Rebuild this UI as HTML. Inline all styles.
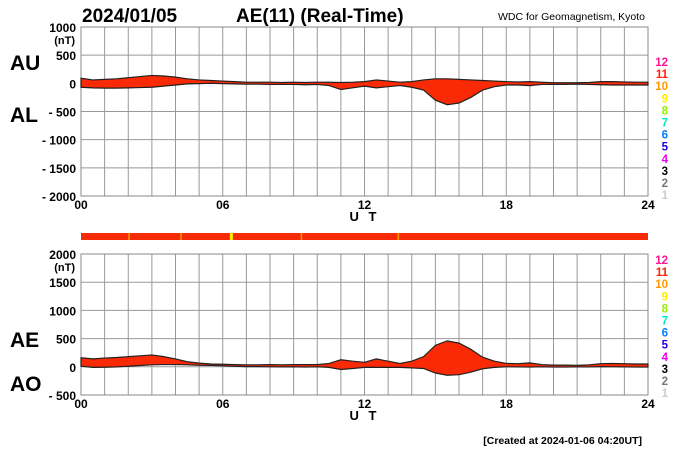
<!DOCTYPE html>
<html><head><meta charset="utf-8"><style>
body{margin:0;background:#fff;}
svg{display:block;font-family:"Liberation Sans",Arial,sans-serif;}
</style></head><body>
<svg id="c" width="700" height="450" viewBox="0 0 700 450">
<text x="82" y="22" font-size="19" font-weight="bold">2024/01/05</text>
<text x="236" y="22" font-size="19" font-weight="bold">AE(11) (Real-Time)</text>
<text x="645" y="20" font-size="10.5" text-anchor="end">WDC for Geomagnetism, Kyoto</text>
<text x="10" y="70" font-size="21" font-weight="bold">AU</text>
<text x="10" y="122" font-size="21" font-weight="bold">AL</text>
<text x="10" y="347" font-size="21" font-weight="bold">AE</text>
<text x="10" y="391" font-size="21" font-weight="bold">AO</text>
<text x="642" y="444" font-size="10.5" font-weight="bold" text-anchor="end">[Created at 2024-01-06 04:20UT]</text>
<g id="top"></g><g id="bot"></g><g id="strip"></g><g id="leg"></g>
</svg>
<script>
const hours = [];
for (let i = 0; i <= 48; i++) hours.push(i / 2);
const auValues = [90,60,70,80,100,120,140,130,110,80,60,50,40,30,20,20,20,15,20,15,20,20,15,20,30,60,40,20,30,60,80,80,70,60,50,40,30,25,30,20,10,10,10,15,30,30,25,20,20];
const alValues = [-70,-80,-85,-85,-80,-75,-70,-50,-30,-10,-5,0,-5,-10,-15,-15,-20,-20,-20,-25,-20,-40,-110,-80,-50,-80,-60,-40,-70,-120,-300,-380,-350,-250,-120,-60,-30,-30,-40,-20,-20,-20,-15,-20,-25,-30,-30,-30,-30];
const topTicks = [1000,500,0,-500,-1000,-1500,-2000];
const botTicks = [2000,1500,1000,500,0,-500];
const xTicks = ["00","06","12","18","24"];
const legendNums = ["12","11","10","9","8","7","6","5","4","3","2","1"];
const legendCols = ["#ff1493","#ff2000","#ff9900","#ffee00","#99ee00","#00e8c8","#0080ff","#2200dd","#ee00ee","#000000","#777777","#cccccc"];
const stripMarks = [6.3,4.2,9.3,13.4,2.0];

const NS="http://www.w3.org/2000/svg";
const X0=81,X1=648;
const xs=h=>X0+(X1-X0)*h/24;
function mk(p,t,a){const e=document.createElementNS(NS,t);for(const k in a)e.setAttribute(k,a[k]);p.appendChild(e);return e;}
function panel(g,yTop,yBot,vMax,vMin,ticks,upper,lower,nm){
  const ys=v=>yTop+(vMax-v)*(yBot-yTop)/(vMax-vMin);
  for(let h=0;h<=24;h++){const l=mk(g,'line',{x1:xs(h),x2:xs(h),y1:yTop,y2:yBot,stroke:'#999','stroke-width':1});
    
    }
  ticks.forEach((t,i)=>{const l=mk(g,'line',{x1:X0,x2:X1,y1:ys(t),y2:ys(t),stroke:'#999','stroke-width':1});
    
    
    const tx=mk(g,'text',{x:76,y:ys(t)+5,'font-size':12,'font-weight':'bold','text-anchor':'end'});
    tx.textContent=t<0?'- '+(-t):String(t);
    
    
    if(i==0){const u=mk(g,'text',{x:75,y:ys(t)+17,'font-size':11,'font-weight':'bold','text-anchor':'end'});u.textContent='(nT)';
      
      }
  });
  const r=mk(g,'rect',{x:X0,y:yTop,width:X1-X0,height:yBot-yTop,fill:'none',stroke:'#888'});
  
  
  let d='';hours.forEach((h,i)=>d+=(i?'L':'M')+xs(h)+' '+ys(upper[i]));
  for(let i=hours.length-1;i>=0;i--)d+='L'+xs(hours[i])+' '+ys(lower[i]);
  const p=mk(g,'path',{d:d+'Z',fill:'#f92a05',stroke:'#222','stroke-width':1.2});
  
  
  xTicks.forEach((t,i)=>{const tx=mk(g,'text',{x:xs(i*6),y:yBot+13,'font-size':12,'font-weight':'bold','text-anchor':'middle'});tx.textContent=t;
    
    });
  const ut=mk(g,'text',{x:xs(12),y:yBot+25,'font-size':13,'font-weight':'bold','text-anchor':'middle','letter-spacing':'3'});ut.textContent='U T';
  
  
}
panel(document.getElementById('top'),27,196,1000,-2000,topTicks,auValues,alValues,'au-al-band');
const aeValues=auValues.map((u,i)=>u-alValues[i]);
const aoValues=auValues.map((u,i)=>(u+alValues[i])/2);
panel(document.getElementById('bot'),254,395,2000,-500,botTicks,aeValues,aoValues,'ae-ao-band');
const s=document.getElementById('strip');
const sr=mk(s,'rect',{x:X0,y:233,width:X1-X0,height:7,fill:'#f62a05'});


stripMarks.forEach((h,i)=>{const l=mk(s,'rect',{x:xs(h),y:233,width:i==0?3:1.5,height:7,fill:i==0?'#ffee00':'#ff9900'});
  
  });
const lg=document.getElementById('leg');
[62,260].forEach(y0=>legendNums.forEach((n,i)=>{const t=mk(lg,'text',{x:668,y:y0+i*12.1+4,'font-size':11.5,'font-weight':'bold','text-anchor':'end',fill:legendCols[i]});t.textContent=n;
  
  }));
</script>
</body></html>
